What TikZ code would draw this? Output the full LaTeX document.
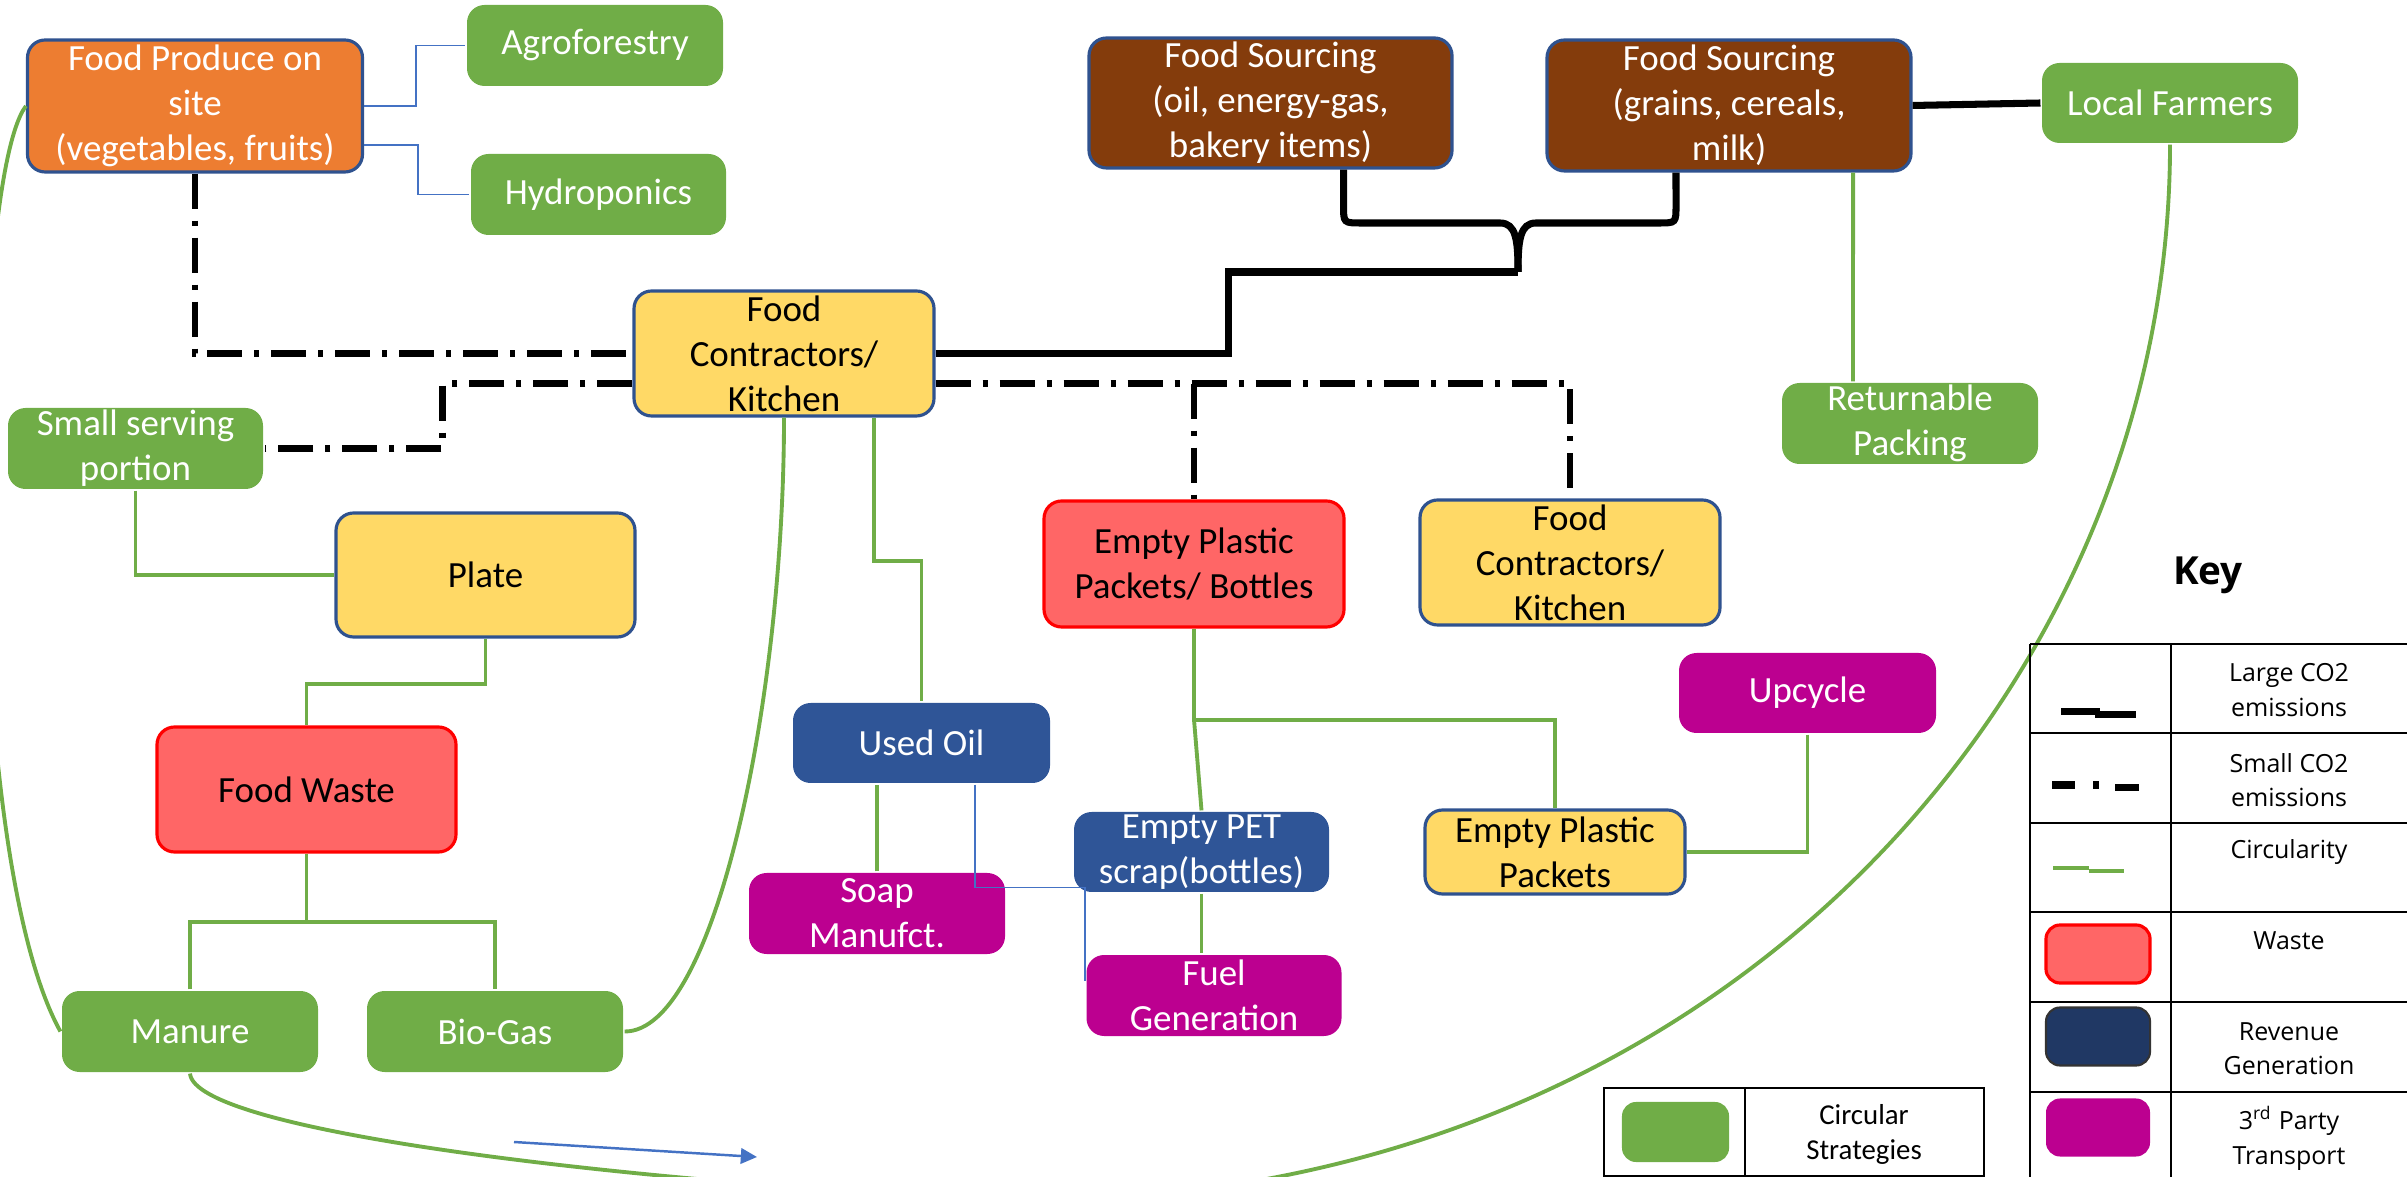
\documentclass[tikz,border=0pt]{standalone}
\usepackage{fontspec}
\setmainfont{Carlito}
\newfontfamily\keyfont{Open Sans}
\usetikzlibrary{arrows.meta}
\definecolor{cOrange}{HTML}{ED7D31}
\definecolor{cBrown}{HTML}{843C0C}
\definecolor{cGreen}{HTML}{70AD47}
\definecolor{cYellow}{HTML}{FFD966}
\definecolor{cRed}{HTML}{FF6666}
\definecolor{cBlue}{HTML}{2F5597}
\definecolor{cMag}{HTML}{BC0090}
\definecolor{cNavy}{HTML}{203864}
\definecolor{cLink}{HTML}{4472C4}
\definecolor{cEdge}{HTML}{2F528F}
\begin{document}
\begin{tikzpicture}[x=0.01cm,y=-0.01cm,
  box/.style={rounded corners=5pt, inner sep=0pt, align=center,
    font=\fontsize{10.5}{12.8}\selectfont, line width=0.9pt},
  sz/.style 2 args={minimum width=#1*0.01cm, minimum height=#2*0.01cm},
  gbox/.style={box, fill=cGreen, text=white},
  obox/.style={box, fill=cOrange, draw=cEdge, text=white},
  brbox/.style={box, fill=cBrown, draw=cEdge, text=white},
  ybox/.style={box, fill=cYellow, draw=cEdge, text=black},
  rbox/.style={box, fill=cRed, draw=red, text=black},
  bbox/.style={box, fill=cBlue, text=white},
  mbox/.style={box, fill=cMag, text=white},
  gline/.style={draw=cGreen, line width=1.1pt},
  bline/.style={draw=cLink, line width=0.5pt},
  kline/.style={draw=black, line width=2pt},
  ddline/.style={draw=black, line width=1.9pt, dash pattern=on 10pt off 3.4pt on 1.4pt off 3.4pt},
  tbl/.style={draw=black, line width=0.8pt},
  keytext/.style={font=\keyfont\fontsize{7.1}{9.8}\selectfont, align=center, inner sep=0pt},
  swatch/.style={rounded corners=4pt, inner sep=0pt, minimum width=1.04cm, minimum height=0.58cm}
]
\useasboundingbox (0,0) rectangle (2407,1177);
\clip (0,0) rectangle (2407,1177);

% ---------- nodes ----------
\node[obox, sz={335}{132}] (fp) at (195,106) {Food Produce on\\site\\(vegetables, fruits)};
\node[gbox, sz={256}{81}] (agro) at (595,45.5) {Agroforestry};
\node[gbox, sz={255}{81}] (hydro) at (598.5,194.5) {Hydroponics};
\node[brbox, sz={363}{130}] (oil) at (1270.5,103) {Food Sourcing\\(oil, energy-gas,\\bakery items)};
\node[brbox, sz={364}{131}] (grain) at (1729,105.5) {Food Sourcing\\(grains, cereals,\\milk)};
\node[gbox, sz={256}{80}] (farm) at (2170,103) {Local Farmers};
\node[ybox, sz={300}{125}] (fc) at (784,353.5) {Food\\Contractors/\\Kitchen};
\node[ybox, sz={300}{125}] (fc2) at (1570,562.5) {Food\\Contractors/\\Kitchen};
\node[gbox, sz={255}{81}] (ssp) at (135.5,448.5) {Small serving\\portion};
\node[gbox, sz={256}{81}] (ret) at (1910,423.5) {Returnable\\Packing};
\node[ybox, sz={299}{124}] (plate) at (485.5,575) {Plate};
\node[rbox, sz={300}{126}] (epb) at (1194,564) {Empty Plastic\\Packets/ Bottles};
\node[rbox, sz={299}{125}] (fw) at (306.5,789.5) {Food Waste};
\node[bbox, sz={257}{80}] (oiluse) at (921.5,743) {Used Oil};
\node[bbox, sz={255}{80}] (pet) at (1201.5,852) {Empty PET\\scrap(bottles)};
\node[mbox, sz={257}{80}] (upc) at (1807.5,693) {Upcycle};
\node[ybox, sz={260}{84}] (epp) at (1555,852) {Empty Plastic\\Packets};
\node[mbox, sz={256}{81}] (soap) at (877,913.5) {Soap\\Manufct.};
\node[mbox, sz={255}{81}] (fuel) at (1214,995.5) {Fuel\\Generation};
\node[gbox, sz={256}{81}] (man) at (190,1031.5) {Manure};
\node[gbox, sz={256}{81}] (bio) at (495,1031.5) {Bio-Gas};

% ---------- thin blue links ----------
\draw[bline] (fp.east) -- ++(52,0) |- (agro.west);
\draw[bline] ([yshift=-0.39cm]fp.east) -- ++(54,0) |- (hydro.west);
\draw[bline] ([xshift=0.535cm]oiluse.south) -- ++(0,103) -| ([yshift=-0.28cm]fuel.north west);

% ---------- small CO2 (dash-dot) ----------
\coordinate (ddl) at ([yshift=-0.3cm]fc.west);
\coordinate (ddr) at ([yshift=-0.3cm]fc.east);
\draw[ddline] (fp.south) |- (fc.west);
\draw[ddline] (ddl) -- ++(-190,0) |- (ssp.east);
\draw[ddline] (ddr) -| (fc2.north);
\draw[ddline] (epb.north |- ddr) -- (epb.north);

% ---------- large CO2 (thick) ----------
\coordinate (bp) at (1518,272);
\draw[kline] (fc.east) -- ++(293,0) |- (bp);
\draw[kline] ([xshift=0.73cm]oil.south) -- (1343.5,205) .. controls (1343.5,223) .. (1361,223)
  -- (1500,223) .. controls (1516,223) and (1518,240) .. (bp);
\draw[kline] ([xshift=-0.53cm]grain.south) -- (1676,205) .. controls (1676,223) .. (1659,223)
  -- (1536,223) .. controls (1520,223) and (1518,240) .. (bp);
\draw[kline] (grain.east) -- (farm.west);

% ---------- circularity (green) ----------
\draw[gline] (ssp.south) |- (plate.west);
\draw[gline] (plate.south) -- ++(0,45) -| (fw.north);
\draw[gline] (fw.south) -- ++(0,68) coordinate (fwj);
\draw[gline] (man.north) -- (man.north |- fwj) -- (bio.north |- fwj) -- (bio.north);
\draw[gline] ([xshift=0.9cm]fc.south) -- ++(0,143) -| (oiluse.north);
\draw[gline] (soap.north) -- (soap.north |- oiluse.south);
\draw[gline] (epb.south) -- ++(0,91) coordinate (epj) -| (epp.north);
\draw[gline] (epj) -- (pet.north);
\draw[gline] (pet.south) -- (pet.south |- fuel.north);
\draw[gline] (upc.south) |- (epp.east);
\draw[gline] ([xshift=1.24cm]grain.south) -- ([xshift=-0.57cm]ret.north);
\draw[gline] (fp.west) .. controls (-30,180) and (-40,850) .. (man.west);
\draw[gline] (fc.south) .. controls (784,700) and (715,1032) .. (bio.east);
\draw[gline] (man.south) .. controls (195,1130) and (600,1180) .. (1000,1200)
  .. controls (1700,1215) and (2170,700) .. (farm.south);

% ---------- blue arrow ----------
\coordinate (a1) at (514,1142);
\coordinate (a2) at (757,1157);
\draw[cLink, line width=0.7pt, -{Triangle[length=4.6pt,width=4.4pt]}] (a1) -- (a2);

% ---------- key ----------
\node[font=\keyfont\bfseries\fontsize{11}{13}\selectfont] (key) at (2208,575) {Key};
\foreach \yy in {644,733,823,912,1002,1092}
  \draw[tbl] (2030,\yy) -- (2420,\yy);
\draw[tbl] (2030,644) -- (2030,1180);
\draw[tbl] (2171,644) -- (2171,1180);

\draw[line width=2.2pt] (2061,711.5) -- (2100,711.5);
\draw[line width=2.2pt] (2095,714.5) -- (2136,714.5);
\draw[line width=2.2pt] (2052,785) -- (2075,785);
\draw[line width=2.2pt] (2093,785) -- (2099,785);
\draw[line width=2.2pt] (2115,787.5) -- (2139,787.5);
\draw[gline] (2053,868) -- (2089,868);
\draw[gline] (2089,871) -- (2124,871);
\node[swatch, fill=cRed, draw=red, line width=0.9pt] (kw) at (2098,954) {};
\node[swatch, fill=cNavy, draw=black!80, line width=0.6pt] (kr) at (2098,1036.5) {};
\node[swatch, fill=cMag] (kt) at (2098,1127.5) {};

\node[keytext] (t1) at (2289,690) {Large CO2\\emissions};
\node[keytext] (t2) at (2289,780) {Small CO2\\emissions};
\node[keytext] (t3) at (2289,852) {Circularity};
\node[keytext] (t4) at (2289,941) {Waste};
\node[keytext] (t5) at (2289,1048.5) {Revenue\\Generation};
\node[keytext] (t6) at (2289,1138) {3\textsuperscript{rd} Party\\Transport};

% ---------- circular strategies legend ----------
\draw[tbl] (1604,1088) rectangle (1984,1176);
\draw[tbl] (1745,1088) -- (1745,1176);
\node[swatch, fill=cGreen, minimum width=1.07cm, minimum height=0.6cm] (kc) at (1675.5,1132) {};
\node[font=\fontsize{8.2}{10}\selectfont, align=center, inner sep=0pt] (tc) at (1864,1134.5) {Circular\\Strategies};
\end{tikzpicture}
\end{document}
